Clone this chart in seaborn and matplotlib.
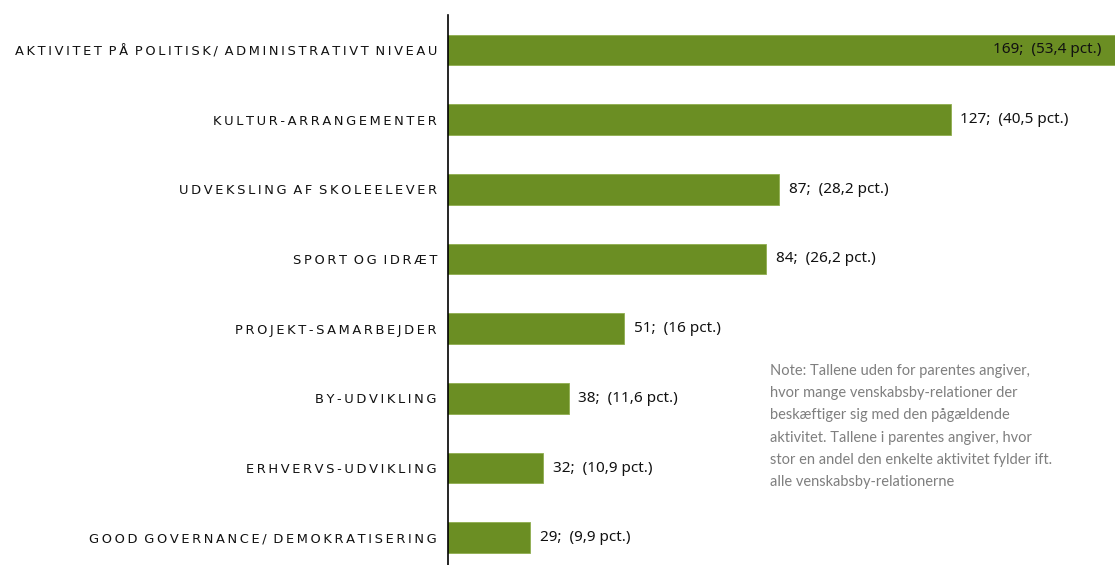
import matplotlib
matplotlib.use("Agg")
import matplotlib.pyplot as plt
import seaborn as sns
import pandas as pd

categories = [
    "AKTIVITET PÅ POLITISK/ ADMINISTRATIVT NIVEAU",
    "KULTUR-ARRANGEMENTER",
    "UDVEKSLING AF SKOLEELEVER",
    "SPORT OG IDRÆT",
    "PROJEKT-SAMARBEJDER",
    "BY-UDVIKLING",
    "ERHVERVS-UDVIKLING",
    "GOOD GOVERNANCE/ DEMOKRATISERING",
]
counts = [169, 127, 87, 84, 51, 38, 32, 29]
pcts = ["53,4", "40,5", "28,2", "26,2", "16", "11,6", "10,9", "9,9"]
note = ("Note: Tallene uden for parentes angiver,\n"
        "hvor mange venskabsby-relationer der\n"
        "beskæftiger sig med den pågældende\n"
        "aktivitet. Tallene i parentes angiver, hvor\n"
        "stor en andel den enkelte aktivitet fylder ift.\n"
        "alle venskabsby-relationerne")

df = pd.DataFrame({"cat": categories, "count": counts})

sns.set_theme(style="white")
plt.rcParams["font.family"] = ["DejaVu Sans"]

W, H = 1115, 565
fig = plt.figure(figsize=(W / 100, H / 100), dpi=100)
ax = fig.add_axes([448 / W, 0, 1 - 448 / W, 1 - 15 / H])

sns.barplot(data=df, x="count", y="cat", orient="h", color="#6B8E23",
            width=0.44, saturation=1, ax=ax, edgecolor="#8FAE4F", linewidth=0.6)

ax.set_xlim(9.9, 165.3)
ax.set_ylim(7.39, -0.5)
ax.set_xlabel("")
ax.set_ylabel("")
ax.set_xticks([])

def spaced(s):
    return "\u2009".join(list(s)).replace("\u2009 \u2009", "\u2009 ")

ax.set_yticks(range(len(categories)))
ax.set_yticklabels([spaced(c) for c in categories], fontsize=9.4, color="#111111")
ax.tick_params(axis="y", length=0, pad=8)

for s in ["top", "right", "bottom"]:
    ax.spines[s].set_visible(False)
ax.spines["left"].set_color("black")
ax.spines["left"].set_linewidth(1.2)

xmax = ax.get_xlim()[1]
for i, (c, p) in enumerate(zip(counts, pcts)):
    lab = f"{c};  ({p} pct.)"
    if c > xmax:
        ax.annotate(lab, xy=(xmax, i), xytext=(-10, 0), textcoords="offset points",
                    ha="right", va="center", fontsize=11, color="#111111",
                    family=["Noto Sans", "DejaVu Sans"])
    else:
        ax.annotate(lab, xy=(c, i), xytext=(7, 0), textcoords="offset points",
                    ha="left", va="center", fontsize=11, color="#111111",
                    family=["Noto Sans", "DejaVu Sans"])

fig.text(770 / W, 1 - 364 / H, note, ha="left", va="top", fontsize=10.5,
         color="#7F7F7F", linespacing=1.75, family=["Lato", "DejaVu Sans"])

fig.savefig("out.png", dpi=100)
